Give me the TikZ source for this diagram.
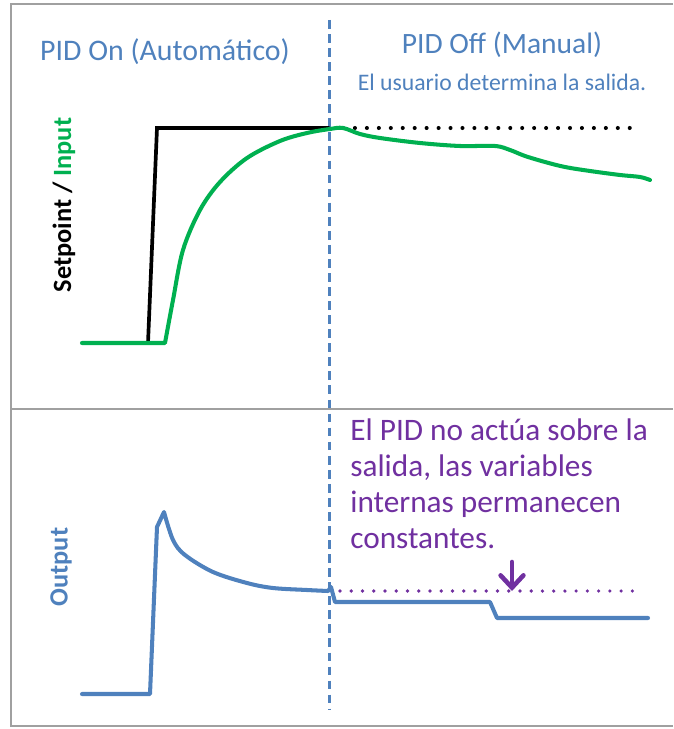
\documentclass[tikz,border=0pt]{standalone}
\usepackage{fontspec}
\setmainfont{Carlito}
\usetikzlibrary{arrows.meta,positioning}
\definecolor{pidblue}{RGB}{79,129,189}
\definecolor{pidgreen}{RGB}{0,176,80}
\definecolor{pidpurple}{RGB}{112,48,160}
\definecolor{framegray}{RGB}{160,160,160}

\begin{document}
\begin{tikzpicture}[x=0.02cm, y=-0.02cm]
    \tikzset{frame/.style={draw=framegray, line width=1.1pt}}
    \tikzset{title/.style={text=pidblue, font=\fontsize{17}{20}\selectfont, inner sep=0pt}}
    \tikzset{axislabel/.style={rotate=90, font=\bfseries\fontsize{15}{18}\selectfont, inner sep=0pt}}
    \tikzset{curve/.style={line width=2.3pt, line cap=round, line join=round}}
    \tikzset{dotline/.style={line width=2.3pt, line cap=round, dash pattern=on 0pt off 6.8pt}}
    \useasboundingbox (0,0) rectangle (673,729);

    % Frame
    \draw[frame] (673,4) -- (11,4) -- (11,726) -- (673,726);
    \draw[frame] (11,409) -- (673,409);

    % Mode switch
    \draw[pidblue, line width=1.7pt, dash pattern=on 5pt off 3pt] (329,20) -- (329,710);

    % Titles
    \node[title] (auto) at (165,52) {PID On (Automático)};
    \node[title, font=\fontsize{16.8}{20}\selectfont] (manual) at (502,45) {PID Off (Manual)};
    \node[title, font=\fontsize{13.5}{16}\selectfont, below=9pt of manual] (user) {El usuario determina la salida.};

    % Axis labels
    \node[axislabel] (spin) at (64,205) {Setpoint / \textcolor{pidgreen}{Input}};
    \node[axislabel, text=pidblue] (out) at (61,567) {Output};

    % Setpoint
    \draw[curve, line width=2.1pt, line join=miter] (148,343) -- (157,128) -- (329,128);
    \draw[dotline] (343,128) -- (640,128);

    % Input
    \draw[curve, pidgreen] (82,343) -- (165,343) -- plot[smooth, tension=0.55] coordinates {
        (165,343) (173,300) (183,250) (200,210) (220,182) (247,158) (280,141)
        (307,133) (330,129) (343,128) (360,134) (380,138) (420,143) (460,146)
        (495,146) (510,150) (525,156) (545,162) (565,167) (590,171) (620,175)
        (640,177) (650,180)};

    % Output
    \draw[curve, pidblue] (82,694) -- (150,694) -- (157,527) -- (164,512)
        -- plot[smooth, tension=0.55] coordinates {
        (164,512) (173,540) (185,555) (213,572) (247,583) (273,588) (307,590) (328,591)}
        -- (331,587) -- (335,602) -- (490,602) -- (497,618) -- (648,618);
    \draw[dotline, pidpurple, line width=2.1pt, dash pattern=on 0pt off 6.4pt] (340,591) -- (643,591);

    % Note
    \node[text=pidpurple, font=\fontsize{17.8}{20.5}\selectfont, align=left, anchor=north west, inner sep=0pt]
        (note) at (350,418) {El PID no actúa sobre la\\salida, las variables\\internas permanecen\\constantes.};
    \coordinate (hold) at (512,562);
    \coordinate (holdtip) at (512,591);
    \draw[pidpurple, line width=2.6pt, line cap=round, -{Straight Barb[length=7pt, width=13pt, line cap=round]}] (hold) -- (holdtip);
\end{tikzpicture}
\end{document}
